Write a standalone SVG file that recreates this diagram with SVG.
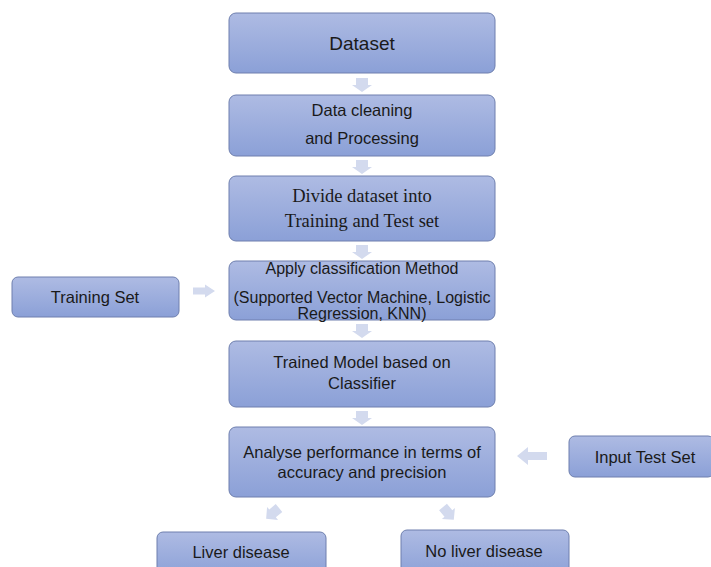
<svg xmlns="http://www.w3.org/2000/svg" xmlns:xlink="http://www.w3.org/1999/xlink" width="711" height="567" viewBox="0 0 711 567">
<defs>
<linearGradient id="g" x1="0" y1="0" x2="0" y2="1">
<stop offset="0" stop-color="#aebbe3"/>
<stop offset="1" stop-color="#8ba0d7"/>
</linearGradient>
<path id="av" d="M0,-6 H7 V-10 L14,0 L7,10 V6 H0 Z"/>
</defs>
<style>
.box{fill:url(#g);stroke:#6e7fae;stroke-width:1}
.t{font-family:"Liberation Sans",Arial,sans-serif;font-size:16.5px;fill:#1a1a1a;text-anchor:middle;dominant-baseline:central}
.s{font-family:"Liberation Serif","Times New Roman",serif;font-size:18.5px;fill:#1a1a1a;text-anchor:middle;dominant-baseline:central}
.a{fill:#d3daee}
</style>
<g id="connectors">
<use xlink:href="#av" class="a" transform="translate(362,78) rotate(90)"/>
<use xlink:href="#av" class="a" transform="translate(362,160) rotate(90)"/>
<use xlink:href="#av" class="a" transform="translate(362,245) rotate(90)"/>
<use xlink:href="#av" class="a" transform="translate(362,324) rotate(90)"/>
<use xlink:href="#av" class="a" transform="translate(362,411) rotate(90)"/>
<path class="a" d="M193,287.5 H205 V284.5 L215,291 L205,297.5 V294.5 H193 Z"/>
<path class="a" d="M547,452 H528 V447 L517,456 L528,465 V460 H547 Z"/>
<use xlink:href="#av" class="a" transform="translate(279,508) rotate(140) scale(1.2,0.85)"/>
<use xlink:href="#av" class="a" transform="translate(443,507) rotate(50) scale(1.2,0.85)"/>
</g>
<g id="dataset">
<rect class="box" x="229" y="13" width="266" height="60" rx="7"/>
<text class="t" x="362" y="43" style="font-size:19px">Dataset</text>
</g>
<g id="cleaning">
<rect class="box" x="229" y="95" width="266" height="61" rx="7"/>
<text class="t" x="362" y="110">Data cleaning</text>
<text class="t" x="362" y="138">and Processing</text>
</g>
<g id="divide">
<rect class="box" x="229" y="176" width="266" height="65" rx="7"/>
<text class="s" x="362" y="196">Divide dataset into</text>
<text class="s" x="362" y="221">Training and Test set</text>
</g>
<g id="apply">
<rect class="box" x="229" y="261" width="266" height="59" rx="7"/>
<text class="t" x="362" y="268" style="font-size:16px">Apply classification Method</text>
<text class="t" x="362" y="297" style="font-size:16px">(Supported Vector Machine, Logistic</text>
<text class="t" x="362" y="313" style="font-size:16px">Regression, KNN)</text>
</g>
<g id="training-set">
<rect class="box" x="12" y="277" width="167" height="40" rx="6"/>
<text class="t" x="95" y="297">Training Set</text>
</g>
<g id="trained-model">
<rect class="box" x="229" y="341" width="266" height="66" rx="7"/>
<text class="t" x="362" y="362">Trained Model based on</text>
<text class="t" x="362" y="383">Classifier</text>
</g>
<g id="analyse">
<rect class="box" x="229" y="427" width="266" height="70" rx="7"/>
<text class="t" x="362" y="452">Analyse performance in terms of</text>
<text class="t" x="362" y="472">accuracy and precision</text>
</g>
<g id="input-test-set">
<rect class="box" x="569" y="436" width="145" height="41" rx="6"/>
<text class="t" x="645" y="457">Input Test Set</text>
</g>
<g id="liver">
<rect class="box" x="157" y="532" width="169" height="45" rx="6"/>
<text class="t" x="241" y="552">Liver disease</text>
</g>
<g id="no-liver">
<rect class="box" x="401" y="530" width="168" height="47" rx="6"/>
<text class="t" x="484" y="551">No liver disease</text>
</g>
</svg>
